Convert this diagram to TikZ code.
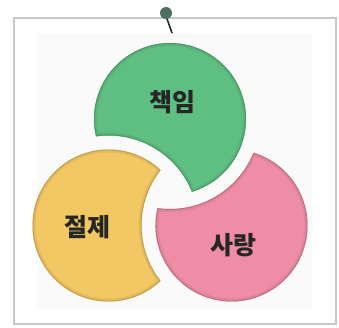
\documentclass[tikz,border=0pt]{standalone}
\usepackage{fontspec}
\newfontfamily\krfont{Noto Sans CJK KR}
\definecolor{leafgreen}{HTML}{5FBE82}
\definecolor{sunyellow}{HTML}{F2C864}
\definecolor{rosepink}{HTML}{EF8DA6}
\definecolor{pingreen}{HTML}{4C6F5E}

\begin{document}
\begin{tikzpicture}[
    x=1pt, y=1pt,
    word/.style={font=\krfont\bfseries\fontsize{25}{25}\selectfont, text=black!85, inner sep=0pt},
    frame/.style={draw=black!22, line width=1.4pt},
    petal/.style={insert path={(21.96,-1.76) arc[start angle=-73.2, end angle=193.2, radius=76]
        arc[start angle=97.98, end angle=22.02, radius=90] -- cycle}},
]
\useasboundingbox (0,0) rectangle (339,-327);

% Paper and pin
\draw[frame] (14,-18) rectangle (336,-324);
\fill[black!2] (36,-33) rectangle (312,-309);
\draw[line width=1.6pt, black!85] (166,-16) -- (172,-33);
\fill[pingreen] (166,-13) circle (6);

% Three petals, turned round the middle
\foreach \ang/\col in {0/leafgreen, 120/sunyellow, 240/rosepink} {
  \begin{scope}[shift={(170,-190)}, rotate=\ang]
    \fill[\col, petal];
    \clip[petal];
    \draw[\col!80!black, line width=6pt, opacity=.3, petal];
    \draw[\col!75!black, line width=1.8pt, opacity=.8, petal];
  \end{scope}
}

% Words
\node[word] (duty) at (172,-102) {책임};
\node[word] (temper) at (87,-227) {절제};
\node[word] (love) at (233,-245) {사랑};
\end{tikzpicture}
\end{document}
